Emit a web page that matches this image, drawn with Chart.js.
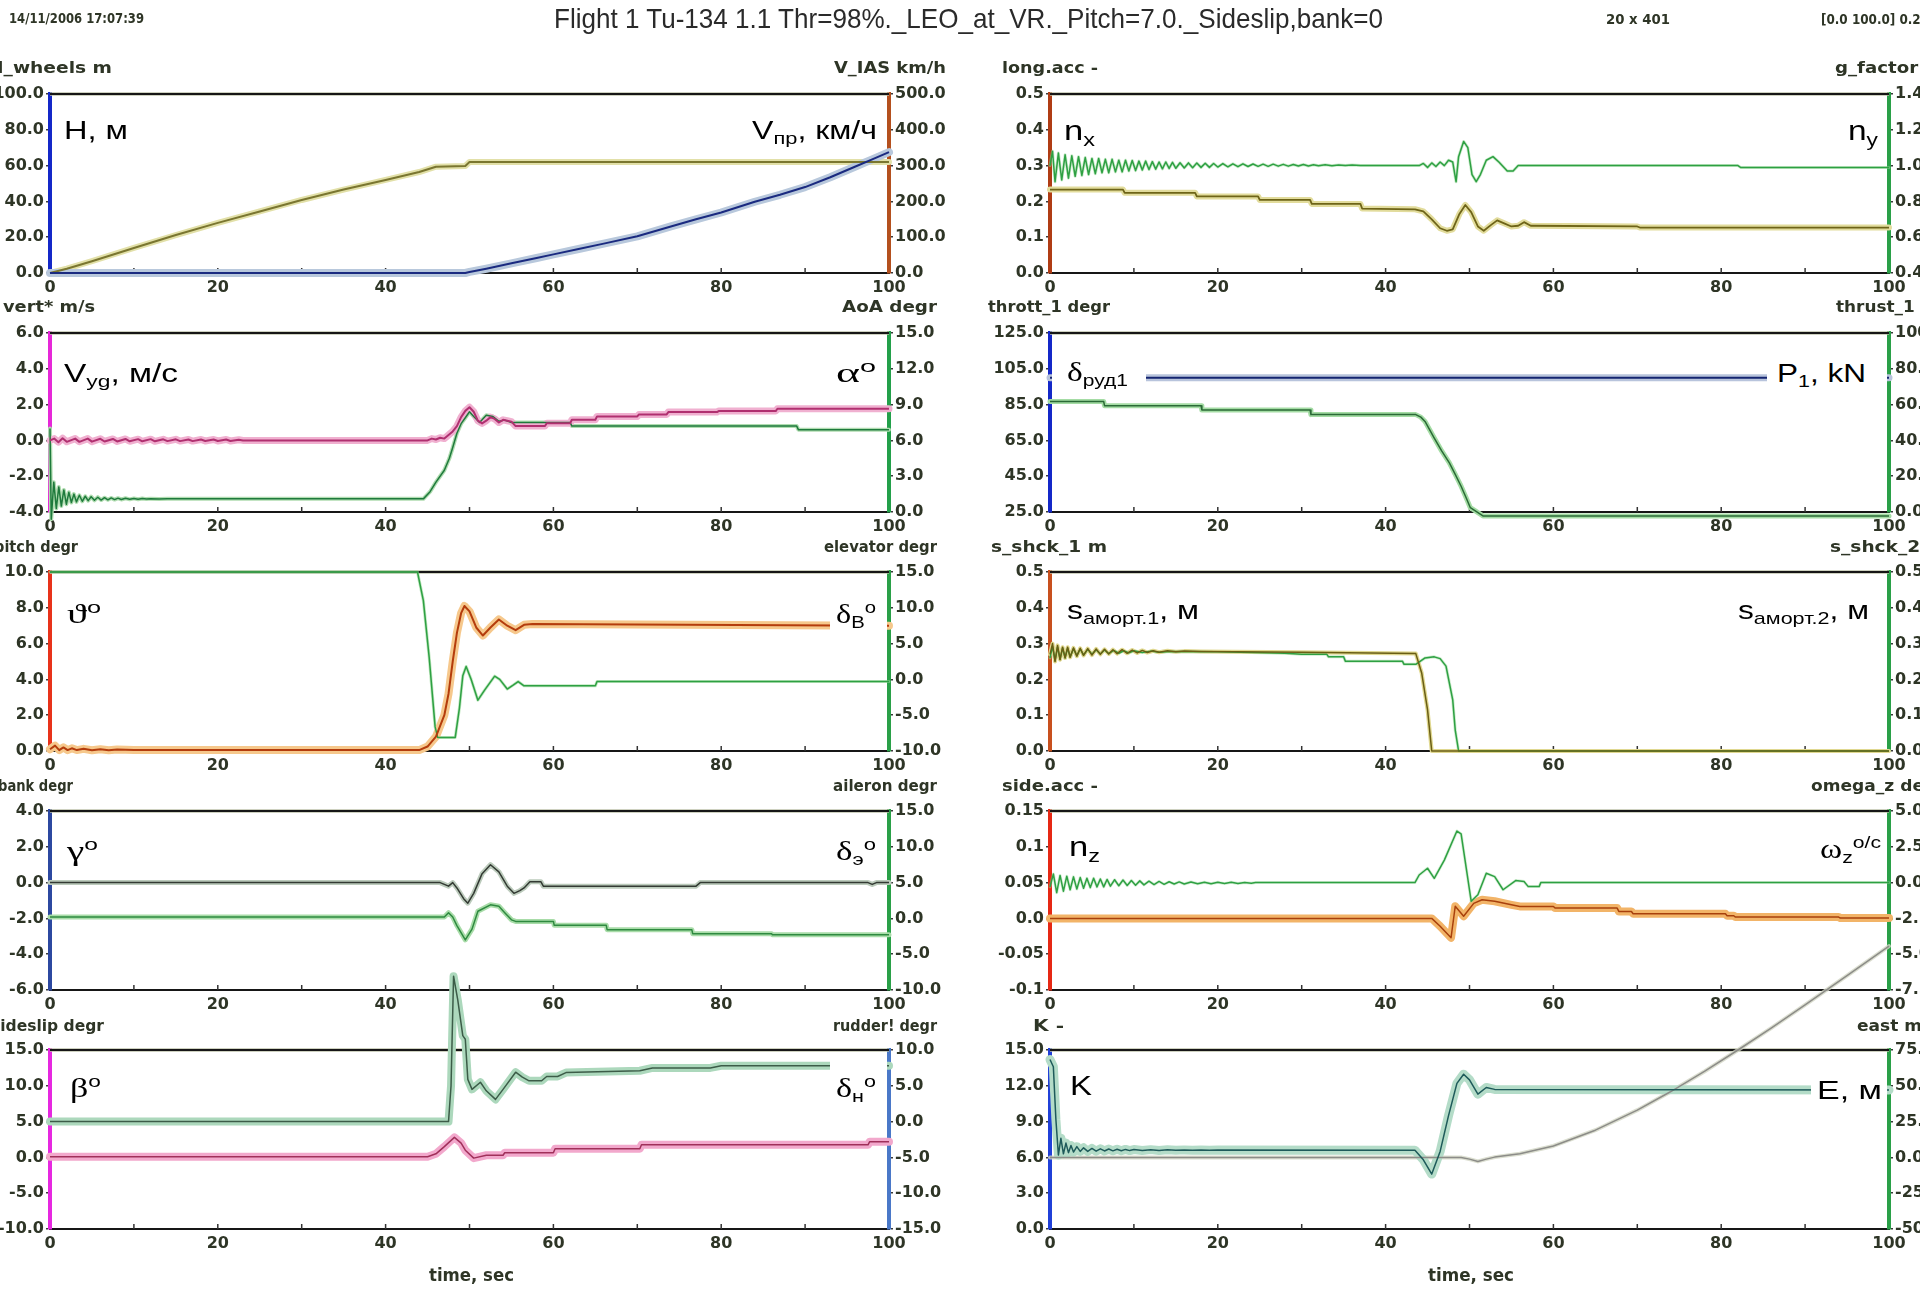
<!DOCTYPE html>
<html><head><meta charset="utf-8">
<script src="https://cdn.jsdelivr.net/npm/chart.js"></script>
<style>
html,body{margin:0;padding:0;width:1920px;height:1290px;overflow:hidden;background:#fff;}
canvas{position:absolute;}
.t{position:absolute;white-space:nowrap;line-height:1;transform-origin:0 50%;}
.ax{font-family:"DejaVu Sans",sans-serif;font-weight:bold;color:#2e3526;}
.hd{font-family:"Liberation Sans",Arial,sans-serif;color:#2a2a2a;}
.an{font-family:"Liberation Sans",Arial,sans-serif;color:#000;}
.g{font-family:"Liberation Serif","Times New Roman",serif;font-size:1.08em;}
sub,sup{line-height:0;font-size:0.68em;}
sub{vertical-align:-0.32em;}
sup{vertical-align:0.6em;}
.box{position:absolute;background:#fff;}
</style></head><body>
<script>
// ---------------- DATA ----------------
const TIME_TICKS=[0,10,20,30,40,50,60,70,80,90,100];

// Panel L1
const H_TICKS=[0,20,40,60,80,100];
const VIAS_TICKS=[0,100,200,300,400,500];
const H_WHEELS=[[0,0],[49.5,0],[50,0.6],[52,2.4],[55,5.4],[58,8.4],[60,10.4],[63,13.4],[66,16.4],[70,20.5],[74,26],[77,30],[80,33.8],[84,39.8],[87,43.7],[90,48],[93,53.5],[96,59.5],[98,63.5],[100,67.5]];
const V_IAS=[[0,0],[2,12],[5,33],[10,70],[15,106],[20,140],[25,172],[30,204],[35,233],[40,260],[44,282],[46,297],[49.5,299],[50,310],[100,310]];

// Panel R1
const NX_TICKS=[0,0.1,0.2,0.3,0.4,0.5];
const NY_TICKS=[0.4,0.6,0.8,1.0,1.2,1.4];
const NX=[[0,0.233],[8.7,0.233],[8.9,0.224],[17.3,0.224],[17.5,0.214],[24.8,0.214],[25,0.204],[31,0.204],[31.2,0.193],[37,0.193],[37.2,0.18],[43.5,0.178],[44.5,0.172],[45.5,0.15],[46.5,0.125],[47.3,0.118],[48,0.122],[48.8,0.165],[49.5,0.19],[50.2,0.17],[51,0.13],[51.7,0.118],[52.5,0.133],[53.3,0.147],[54.2,0.138],[55,0.13],[55.8,0.132],[56.5,0.142],[57.3,0.132],[70,0.13],[70.3,0.127],[100,0.127]];
const NY=[[0,1.0],[0.3,1.08],[0.6,0.91],[1.0,1.07],[1.4,0.92],[1.8,1.06],[2.2,0.93],[2.6,1.055],[3.0,0.94],[3.4,1.05],[3.8,0.945],[4.2,1.045],[4.6,0.95],[5.0,1.04],[5.4,0.955],[5.8,1.04],[6.2,0.96],[6.6,1.035],[7.0,0.96],[7.4,1.035],[7.8,0.965],[8.2,1.03],[8.6,0.965],[9.0,1.03],[9.4,0.97],[9.8,1.028],[10.2,0.972],[10.6,1.025],[11.0,0.975],[11.4,1.025],[11.8,0.978],[12.2,1.022],[12.6,0.98],[13.0,1.02],[13.4,0.982],[13.8,1.02],[14.2,0.984],[14.6,1.018],[15.0,0.985],[15.5,1.016],[16.0,0.987],[16.5,1.015],[17.0,0.988],[17.5,1.014],[18.0,0.99],[18.5,1.013],[19.0,0.99],[19.5,1.012],[20.0,0.992],[20.6,1.011],[21.2,0.993],[21.8,1.01],[22.4,0.994],[23.0,1.01],[23.6,0.995],[24.2,1.009],[24.8,0.996],[25.4,1.008],[26.0,0.996],[26.6,1.008],[27.2,0.997],[27.8,1.007],[28.4,0.997],[29.0,1.006],[29.6,0.998],[30.2,1.006],[30.8,0.998],[31.4,1.005],[32.0,0.999],[32.8,1.005],[33.6,0.999],[34.4,1.004],[35.2,1.0],[36.0,1.003],[37.0,1.0],[44.0,1.0],[44.5,1.012],[45.0,0.99],[45.5,1.015],[46.0,0.995],[46.5,1.02],[47.0,1.0],[47.5,1.03],[48.0,1.02],[48.4,0.91],[48.7,1.05],[49.3,1.135],[49.8,1.1],[50.3,0.95],[50.8,0.91],[51.3,0.95],[52.0,1.03],[52.8,1.05],[53.5,1.02],[54.5,0.97],[55.2,0.97],[55.8,1.0],[82.0,1.0],[82.3,0.99],[100,0.99]];

// Panel L2
const VY_TICKS=[-4,-2,0,2,4,6];
const AOA_TICKS=[0,3,6,9,12,15];
const VY=[[0,0.0],[0.5,0.1],[1,-0.1],[1.5,0.12],[2,-0.08],[3,0.1],[3.5,-0.08],[4.5,0.1],[5,-0.07],[6,0.09],[6.5,-0.06],[7.5,0.08],[8,-0.06],[9,0.08],[9.5,-0.05],[10.5,0.07],[11,-0.05],[12,0.07],[12.5,-0.05],[13.5,0.06],[14,-0.04],[15,0.06],[15.5,-0.04],[16.5,0.05],[17,-0.04],[18,0.05],[18.5,-0.03],[19.5,0.05],[20,-0.03],[21,0.05],[21.5,-0.03],[22.5,0.04],[23,0],[45,0],[45.5,0.1],[46,0.05],[46.5,0.15],[47,0.1],[47.5,0.3],[48,0.5],[48.5,0.8],[49,1.3],[49.5,1.65],[50,1.85],[50.5,1.6],[51,1.1],[51.5,0.95],[52,1.1],[52.5,1.3],[53,1.2],[53.5,1.0],[54,1.15],[54.5,1.1],[55,1.05],[55.5,0.8],[59,0.8],[59.2,0.96],[62,0.96],[62.2,1.15],[65,1.15],[65.2,1.34],[70,1.34],[70.2,1.45],[73.5,1.45],[73.7,1.58],[79.5,1.58],[79.7,1.64],[86.5,1.64],[86.7,1.77],[100,1.77]];
const AOA=[[0,7.0],[0.15,-0.6],[0.45,2.5],[0.75,0.3],[1.05,2.1],[1.35,0.5],[1.65,1.85],[1.95,0.65],[2.25,1.65],[2.55,0.8],[2.85,1.5],[3.15,0.85],[3.5,1.4],[3.85,0.9],[4.2,1.32],[4.55,0.95],[4.9,1.28],[5.3,0.98],[5.7,1.24],[6.1,1.0],[6.5,1.2],[6.9,1.02],[7.3,1.18],[7.7,1.04],[8.1,1.16],[8.5,1.05],[9,1.15],[9.5,1.06],[10,1.14],[10.5,1.07],[11,1.13],[11.5,1.08],[12,1.12],[13,1.09],[14,1.11],[15,1.1],[44.5,1.1],[45.3,1.7],[46,2.5],[47,3.5],[47.6,4.5],[48,5.4],[48.5,6.6],[49,7.4],[49.5,7.9],[50,8.4],[50.5,8.0],[51.2,7.5],[52,8.1],[52.8,8.0],[53.5,7.6],[54.2,7.7],[55,7.5],[62,7.5],[62.2,7.2],[89,7.2],[89.2,6.9],[100,6.9]];

// Panel R2
const THR_TICKS=[25,45,65,85,105,125];
const P1_TICKS=[0,20,40,60,80,100];
const THROTTLE=[[0,100],[100,100]];
const THRUST=[[0,61.7],[6.4,61.7],[6.5,59.4],[18,59.4],[18.1,57],[31,57],[31.1,54.4],[43.6,54.4],[44.2,53],[44.7,50.6],[45.8,41.3],[46.7,34],[47.6,27.4],[48.3,21],[49,14.4],[49.6,8],[50.1,2.4],[51.6,-2.2],[100,-2.2]];

// Panel L3
const PITCH_TICKS=[0,2,4,6,8,10];
const ELEV_TICKS=[-10,-5,0,5,10,15];
const PITCH=[[0,0.1],[0.6,0.3],[1.1,0.05],[1.6,0.2],[2.1,0.05],[2.6,0.15],[3.2,0.05],[4,0.12],[5,0.04],[6,0.1],[7,0.04],[8,0.08],[10,0.05],[44,0.05],[45,0.25],[46,0.8],[47,2.0],[47.5,3.2],[48,5.0],[48.5,6.6],[49,7.7],[49.4,8.1],[50,7.8],[50.8,6.9],[51.6,6.45],[52.5,6.9],[53.5,7.35],[54.5,7.0],[55.5,6.75],[56.5,7.05],[57.5,7.1],[100,7.0]];
const ELEVATOR=[[0,15],[43.8,15],[44.5,11],[45.2,3],[45.9,-6.6],[46.2,-8.1],[48.3,-8.1],[48.8,-4],[49.2,0.5],[49.6,1.8],[50.2,0],[51,-2.9],[51.8,-1.5],[53,0.45],[53.6,0],[54.5,-1.35],[55.2,-0.8],[55.8,-0.3],[56.5,-0.9],[65,-0.9],[65.2,-0.3],[100,-0.3]];

// Panel R3
const S1_TICKS=[0,0.1,0.2,0.3,0.4,0.5];
const S2_TICKS=[0,0.1,0.2,0.3,0.4,0.5];
const S_SHCK1=[[0,0.27],[0.3,0.30],[0.6,0.25],[0.9,0.295],[1.2,0.255],[1.5,0.29],[1.8,0.26],[2.1,0.29],[2.4,0.262],[2.8,0.288],[3.2,0.265],[3.6,0.287],[4,0.267],[4.5,0.286],[5,0.268],[5.5,0.285],[6,0.27],[6.5,0.284],[7,0.271],[7.5,0.283],[8,0.272],[8.6,0.283],[9.2,0.273],[9.8,0.282],[10.4,0.274],[11,0.281],[11.6,0.275],[12.3,0.28],[13,0.276],[14,0.28],[15,0.277],[16,0.279],[18,0.278],[30,0.276],[43.6,0.272],[44.3,0.218],[45,0.115],[45.5,0],[100,0]];
const S_SHCK2=[[0,0.26],[0.3,0.292],[0.6,0.252],[0.9,0.29],[1.2,0.256],[1.5,0.288],[1.8,0.26],[2.1,0.287],[2.4,0.263],[2.8,0.286],[3.2,0.266],[3.6,0.285],[4,0.268],[4.5,0.284],[5,0.27],[5.5,0.283],[6,0.271],[6.5,0.282],[7,0.272],[7.6,0.281],[8.2,0.273],[8.8,0.28],[9.4,0.274],[10,0.28],[11,0.275],[12,0.279],[13,0.276],[14.5,0.278],[20,0.277],[28,0.273],[30,0.27],[33,0.27],[33.2,0.263],[35,0.263],[35.2,0.251],[42,0.251],[42.2,0.242],[43.6,0.242],[44.7,0.26],[45.8,0.263],[46.5,0.258],[47.2,0.237],[48,0.143],[48.3,0.058],[48.7,0],[100,0]];

// Panel L4
const BANK_TICKS=[-6,-4,-2,0,2,4];
const AIL_TICKS=[-10,-5,0,5,10,15];
const BANK=[[0,0],[46.5,0],[47,-0.1],[47.5,-0.2],[48,0],[48.5,-0.3],[49.3,-0.9],[49.8,-1.15],[50.5,-0.6],[51.5,0.5],[52.5,1.0],[53.5,0.6],[54.5,-0.2],[55.3,-0.6],[56,-0.45],[56.5,-0.3],[57.2,0.05],[58.5,0.05],[58.8,-0.2],[77,-0.2],[77.5,0],[97.5,0],[98,-0.1],[98.5,0],[100,0]];
const AILERON=[[0,0.2],[47,0.2],[47.5,0.8],[48,0.2],[48.5,-1],[49.5,-3.0],[50.3,-1.5],[51,1.0],[52.5,1.9],[53.5,1.7],[54.2,0.8],[55,-0.2],[55.5,-0.42],[60,-0.42],[60.1,-0.97],[66.3,-0.97],[66.4,-1.57],[76.5,-1.57],[76.6,-2.13],[86,-2.13],[86.1,-2.27],[100,-2.27]];

// Panel R4
const NZ_TICKS=[-0.1,-0.05,0,0.05,0.1,0.15];
const WZ_TICKS=[-7.5,-5,-2.5,0,2.5,5];
const NZ=[[0,0],[45.5,0],[46.5,-0.011],[47.8,-0.027],[48.3,0.017],[49.3,0.003],[50.5,0.021],[51.5,0.026],[53,0.024],[55,0.019],[56,0.0167],[60,0.0167],[60.2,0.0144],[67.6,0.0144],[67.8,0.0097],[69.3,0.0097],[69.5,0.0065],[80.5,0.0065],[80.7,0.0037],[81.5,0.0037],[81.7,0.0019],[94,0.0019],[94.2,0.0005],[100,0.0005]];
const OMEGA_Z=[[0,-0.3],[0.4,0.6],[0.8,-0.7],[1.2,0.5],[1.6,-0.6],[2.0,0.45],[2.4,-0.5],[2.8,0.4],[3.2,-0.45],[3.6,0.35],[4.0,-0.4],[4.4,0.3],[4.8,-0.35],[5.2,0.3],[5.6,-0.3],[6.0,0.25],[6.4,-0.3],[6.8,0.22],[7.2,-0.25],[7.7,0.2],[8.2,-0.22],[8.7,0.18],[9.2,-0.2],[9.7,0.15],[10.2,-0.18],[10.7,0.12],[11.2,-0.16],[11.8,0.1],[12.4,-0.14],[13,0.08],[13.6,-0.12],[14.2,0.06],[14.8,-0.1],[15.4,0.05],[16,-0.1],[16.8,0.04],[17.6,-0.08],[18.4,0.03],[19.2,-0.08],[20,0.02],[20.8,-0.07],[21.6,0.02],[22.4,-0.06],[23.2,0.01],[24,-0.05],[24.5,0],[43.5,0],[44,0.53],[45,1.0],[45.8,0.3],[47,1.57],[48.5,3.6],[49,3.4],[50.2,-1.3],[51,-0.85],[52,0.65],[53,0.42],[54,-0.5],[55.5,0.14],[56.5,0.07],[57,-0.28],[58.3,-0.28],[58.5,0],[100,0]];

// Panel L5
const BETA_TICKS=[-10,-5,0,5,10,15];
const RUD_TICKS=[-15,-10,-5,0,5,10];
const SIDESLIP=[[0,0.1],[45,0.1],[46,0.5],[47,1.5],[48.2,2.8],[49,2],[49.5,1.0],[50.5,-0.1],[52,0.3],[54,0.3],[54.2,0.65],[60,0.65],[60.2,1.2],[70.3,1.2],[70.5,1.76],[97.5,1.76],[97.7,2.2],[100,2.2]];
const RUDDER=[[0,0],[47.5,0],[47.8,5],[48.1,20.3],[48.6,17],[49.2,12],[49.5,11.5],[49.8,5.9],[50.3,4.5],[51.3,5.5],[52,4.3],[53.1,3.1],[54,4.5],[55.5,6.9],[56.3,6.2],[57.1,5.7],[58.6,5.7],[59.2,6.3],[60.5,6.3],[61.5,6.85],[70.3,7.1],[71.8,7.5],[78.7,7.5],[80,7.8],[100,7.8]];

// Panel R5
const K_TICKS=[0,3,6,9,12,15];
const EAST_TICKS=[-50,-25,0,25,50,75];
const K_RATIO=[[0,14.2],[0.4,13.6],[0.7,9.2],[1.0,6.2],[1.3,7.6],[1.6,6.3],[1.9,7.2],[2.2,6.4],[2.5,7.0],[2.8,6.45],[3.2,6.9],[3.6,6.5],[4,6.8],[4.5,6.5],[5,6.75],[5.5,6.52],[6,6.72],[6.5,6.54],[7,6.7],[7.5,6.55],[8,6.68],[8.5,6.56],[9,6.67],[9.5,6.57],[10,6.66],[11,6.58],[12,6.65],[13,6.58],[14,6.64],[15,6.59],[16,6.63],[17,6.6],[18,6.63],[19,6.6],[20,6.62],[43.5,6.6],[44.5,5.8],[45.5,4.6],[46.5,6.5],[47.5,9.5],[48.5,12.2],[49.3,12.97],[50,12.5],[51,11.3],[52,11.86],[53,11.7],[100,11.65]];
const EAST=[[0,0],[45,0],[49,0],[50,-1.2],[51,-2.8],[52,-1.2],[53,0.2],[56,2.5],[60,8],[65,19],[70,33],[74,46],[78,60],[82,75],[86,90.5],[90,106.5],[95,127],[100,147.5]];

// ---------------- LAYOUT / STYLE ----------------
const ML=60, MR=60, MT=120, MB=40, PW=839, PH=179;
const TICK_FONT={family:'"DejaVu Sans", sans-serif',size:16,weight:'bold'};
const TICK_COLOR='#2e3526';
function fmt(v){return Math.abs(v*10-Math.round(v*10))<1e-6? v.toFixed(1): v.toFixed(2);}

const PANELS=[
 {x:50,y:94,L:[H_TICKS,'#1428c8'],R:[VIAS_TICKS,'#b4501e'],S:[
   [V_IAS,'yR','#7a7630',2,'#e2e0a8',6],[H_WHEELS,'yL','#1a2a80',2,'#b8c8dc',8]]},
 {x:1050,y:94,L:[NX_TICKS,'#b03c14'],R:[NY_TICKS,'#2aa048'],S:[
   [NX,'yL','#6e6418',1.8,'#e2dc9c',6],[NY,'yR','#2ea043',1.5,'rgba(150,215,150,0.5)',3]]},
 {x:50,y:333,L:[VY_TICKS,'#e628d8'],R:[AOA_TICKS,'#23a04a'],S:[
   [AOA,'yR','#1e7a3c',1.5,'#b0dcb0',4],[VY,'yL','#b03070',2,'#f0b0d0',7]]},
 {x:1050,y:333,L:[THR_TICKS,'#1428c8'],R:[P1_TICKS,'#2aa048'],S:[
   [THRUST,'yR','#2a6a36',1.5,'#a4dca4',5],[THROTTLE,'yL','#142470',2,'#b8c4dc',7]]},
 {x:50,y:572,L:[PITCH_TICKS,'#e8321a'],R:[ELEV_TICKS,'#2aa048'],S:[
   [ELEVATOR,'yR','#2ea043',1.5,'rgba(150,215,150,0.6)',3],[PITCH,'yL','#b43c0c',2,'#f6c88c',8]]},
 {x:1050,y:572,L:[S1_TICKS,'#c8501e'],R:[S2_TICKS,'#2aa048'],S:[
   [S_SHCK2,'yR','#2ea043',1.5,'rgba(150,215,150,0.5)',3],[S_SHCK1,'yL','#6a5e14',1.5,'#e0d890',4]]},
 {x:50,y:811,L:[BANK_TICKS,'#2c48a0'],R:[AIL_TICKS,'#2aa048'],S:[
   [AILERON,'yR','#2e8a40',1.5,'#a8dca8',5],[BANK,'yL','#333a33',1.5,'#bccbbc',5]]},
 {x:1050,y:811,L:[NZ_TICKS,'#e62814'],R:[WZ_TICKS,'#2aa048'],S:[
   [NZ,'yL','#a8400c',1.5,'#f2b468',8],[OMEGA_Z,'yR','#2ea043',1.5,'rgba(150,215,150,0.4)',3]]},
 {x:50,y:1050,L:[BETA_TICKS,'#e628e0'],R:[RUD_TICKS,'#4a78c8'],S:[
   [SIDESLIP,'yL','#a0305a',1.5,'#f2a8cc',8],[RUDDER,'yR','#3c5c48',1.5,'#acd8bc',8]]},
 {x:1050,y:1050,L:[K_TICKS,'#2040d8'],R:[EAST_TICKS,'#2aa048'],S:[
   [EAST,'yR','#8c8c88',1.5,'rgba(210,214,196,0.8)',4],[K_RATIO,'yL','#1e5a5a',1.5,'#b4dcc8',9]]}
];

const framePlugin={id:'frame',beforeDatasetsDraw(chart){
  const ctx=chart.ctx,a=chart.chartArea,xs=chart.scales.x;
  ctx.save();
  ctx.strokeStyle='rgba(185,190,165,0.7)';ctx.lineWidth=4;
  ctx.beginPath();ctx.moveTo(a.left,a.top);ctx.lineTo(a.right,a.top);ctx.stroke();
  ctx.strokeStyle='#161616';ctx.lineWidth=2;
  ctx.beginPath();ctx.moveTo(a.left,a.top);ctx.lineTo(a.right,a.top);ctx.stroke();
  ctx.strokeStyle='#333';ctx.lineWidth=1.5;
  xs.ticks.forEach(t=>{if(t.value>0&&t.value<100){const px=xs.getPixelForValue(t.value);
    ctx.beginPath();ctx.moveTo(px,a.bottom);ctx.lineTo(px,a.bottom-5);ctx.stroke();}});
  ctx.restore();
}};

function yAxis(pos,ticks,color){
  return {type:'linear',position:pos,min:ticks[0],max:ticks[ticks.length-1],
    afterBuildTicks:s=>{s.ticks=ticks.map(v=>({value:v}));},
    afterFit:s=>{s.width=(pos==='left'?ML:MR);},
    ticks:{font:TICK_FONT,color:TICK_COLOR,padding:2,callback:v=>fmt(v)},
    grid:{display:true,drawOnChartArea:false,drawTicks:true,tickLength:4,color:'#3a3a3a',lineWidth:1.5},
    border:{display:true,color:color,width:4}};
}

PANELS.forEach(p=>{
  const cv=document.createElement('canvas');
  const W=PW+ML+MR,Hh=PH+MT+MB;
  cv.width=W;cv.height=Hh;cv.style.width=W+'px';cv.style.height=Hh+'px';
  cv.style.left=(p.x-ML)+'px';cv.style.top=(p.y-MT)+'px';
  document.body.appendChild(cv);
  const ds=[];
  p.S.forEach((s,i)=>{
    ds.push({data:s[0],yAxisID:s[1],borderColor:s[4],borderWidth:s[5],pointRadius:0,tension:0,fill:false,clip:false,order:50-i,borderJoinStyle:'round',borderCapStyle:'round'});
    ds.push({data:s[0],yAxisID:s[1],borderColor:s[2],borderWidth:s[3],pointRadius:0,tension:0,fill:false,clip:false,order:10-i,borderJoinStyle:'round'});
  });
  new Chart(cv,{type:'line',data:{datasets:ds},plugins:[framePlugin],options:{
    responsive:false,animation:false,devicePixelRatio:1,
    layout:{padding:{top:MT,left:0,right:0,bottom:0}},
    plugins:{legend:{display:false},tooltip:{enabled:false}},
    scales:{
      x:{type:'linear',position:'bottom',min:0,max:100,
        afterBuildTicks:s=>{s.ticks=TIME_TICKS.map(v=>({value:v}));},
        afterFit:s=>{s.height=MB;},
        ticks:{font:TICK_FONT,color:TICK_COLOR,padding:5,maxRotation:0,autoSkip:false,callback:v=>(v%20===0?String(v):'')},
        grid:{display:false,drawTicks:false},
        border:{display:true,color:'#161616',width:2}},
      yL:yAxis('left',p.L[0],p.L[1]),
      yR:yAxis('right',p.R[0],p.R[1])
    }}});
});

// white boxes behind in-plot labels
[[1052,358,94,40],[1767,358,120,40],[830,600,57,50],[830,1055,57,60],[1811,1070,76,40]].forEach(b=>{
  const d=document.createElement('div');d.className='box';
  d.style.left=b[0]+'px';d.style.top=b[1]+'px';d.style.width=b[2]+'px';d.style.height=b[3]+'px';
  document.body.appendChild(d);
});

// texts: [html, left, width, centerY, size, class]
const TEXTS=[
 ['14/11/2006 17:07:39',9,135,17.5,14,'ax'],
 ['Flight 1 Tu-134 1.1 Thr=98%._LEO_at_VR._Pitch=7.0._Sideslip,bank=0',554,829,18,28,'hd'],
 ['20 x 401',1606,64,19,14,'ax'],
 ['[0.0 100.0] 0.25',1821,108,19,14,'ax'],
 ['H_wheels m',-12,124,68,15,'ax'],['V_IAS km/h',834,112,68,15,'ax'],
 ['vert* m/s',3,92,307.5,15,'ax'],['AoA degr',842,95,307.5,15,'ax'],
 ['pitch degr',-6,84,547,15,'ax'],['elevator degr',824,113,547,15,'ax'],
 ['bank degr',-2,75,786.5,15,'ax'],['aileron degr',833,104,786.5,15,'ax'],
 ['sideslip degr',-9,113,1026,15,'ax'],['rudder! degr',833,104,1026,15,'ax'],
 ['long.acc -',1002,96,68,15,'ax'],['g_factor -',1835,97,68,15,'ax'],
 ['thrott_1 degr',988,122,307.5,15,'ax'],['thrust_1 kN',1836,110,307.5,15,'ax'],
 ['s_shck_1 m',991,116,547,15,'ax'],['s_shck_2 m',1830,116,547,15,'ax'],
 ['side.acc -',1002,96,786.5,15,'ax'],['omega_z degr/s',1811,150,786.5,15,'ax'],
 ['K -',1033,31,1026,15,'ax'],['east m',1857,65,1026,15,'ax'],
 ['time, sec',429,85,1275,17,'ax'],['time, sec',1428,86,1275,17,'ax'],
 ['H, м',64,64,130,25,'an'],
 ['V<sub>пр</sub>, км/ч',752,125,130,25,'an'],
 ['n<sub>x</sub>',1064,31,131,27,'an'],
 ['n<sub>y</sub>',1848,30,131,27,'an'],
 ['V<sub>yg</sub>, м/с',64,114,373,25,'an'],
 ['<span class="g">α</span><sup>o</sup>',836,40,372,25,'an'],
 ['<span class="g">δ</span><sub>руд1</sub>',1067,61,371,25,'an'],
 ['P<sub>1</sub>, kN',1777,89,373,25,'an'],
 ['<span class="g">ϑ</span><sup>o</sup>',67,34,613,25,'an'],
 ['<span class="g">δ</span><sub>В</sub><sup>o</sup>',836,40,613,25,'an'],
 ['s<sub>аморт.1</sub>, м',1067,132,610,25,'an'],
 ['s<sub>аморт.2</sub>, м',1738,131,610,25,'an'],
 ['<span class="g">γ</span><sup>o</sup>',67,31,850,25,'an'],
 ['<span class="g">δ</span><sub>э</sub><sup>o</sup>',836,40,850,25,'an'],
 ['n<sub>z</sub>',1069,31,847,27,'an'],
 ['<span class="g">ω</span><sub>z</sub><sup>o/c</sup>',1820,61,848,25,'an'],
 ['<span class="g">β</span><sup>o</sup>',70,31,1087,25,'an'],
 ['<span class="g">δ</span><sub>н</sub><sup>o</sup>',836,40,1087,25,'an'],
 ['K',1070,22,1085,28,'an'],
 ['E, м',1817,65,1090,25,'an']
];
TEXTS.forEach(t=>{
  const d=document.createElement('div');d.className='t '+t[5];d.innerHTML=t[0];
  d.style.fontSize=t[4]+'px';d.style.left=t[1]+'px';d.style.top=(t[3]-0.48*t[4])+'px';
  document.body.appendChild(d);
  const nat=d.getBoundingClientRect().width;
  if(nat>0) d.style.transform='scaleX('+(t[2]/nat).toFixed(4)+')';
});
</script>
</body></html>
